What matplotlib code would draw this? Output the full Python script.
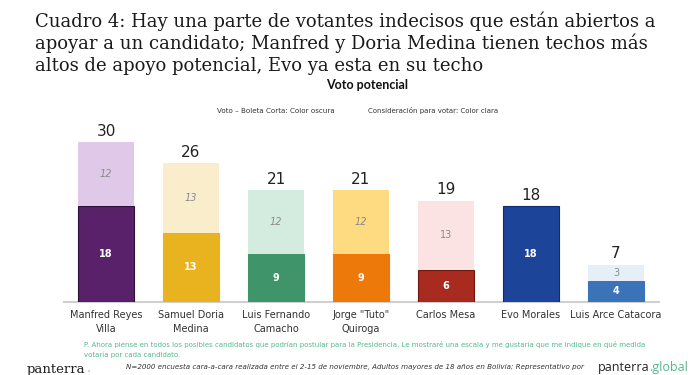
import matplotlib
matplotlib.use("Agg")
import matplotlib.pyplot as plt
import numpy as np

categories = ["Manfred Reyes\nVilla", "Samuel Doria\nMedina", "Luis Fernando\nCamacho",
              "Jorge \"Tuto\"\nQuiroga", "Carlos Mesa", "Evo Morales", "Luis Arce Catacora"]
voto = [18, 13, 9, 9, 6, 18, 4]
consideracion = [12, 13, 12, 12, 13, 0, 3]
totales = [30, 26, 21, 21, 19, 18, 7]

dark_colors = ["#58216a", "#e8b31f", "#3f9569", "#ee790b", "#a92a1f", "#1c4499", "#3b73b9"]
light_colors = ["#e0c8e8", "#f9edcc", "#d4ece0", "#fedb80", "#fbe3e3", "#ffffff", "#e6eef8"]
edge_colors = ["#2e0f3a", "#e8b31f", "#3f9569", "#ee790b", "#6e1710", "#0f2c6e", "#3b73b9"]
light_italic = [True, True, True, True, False, False, False]

title_lines = ["Cuadro 4: Hay una parte de votantes indecisos que están abiertos a",
               "apoyar a un candidato; Manfred y Doria Medina tienen techos más",
               "altos de apoyo potencial, Evo ya esta en su techo"]

W, H = 700, 375
fig = plt.figure(figsize=(7, 3.75), dpi=100)
ax = fig.add_axes([63.5 / W, 1 - 302 / H, (658.5 - 63.5) / W, (302 - 120) / H])

x = np.arange(len(categories))
bw = 0.66
ax.bar(x, voto, width=bw, color=dark_colors, edgecolor=edge_colors, linewidth=0.8, zorder=3)
ax.bar(x, consideracion, bottom=voto, width=bw, color=light_colors, linewidth=0, zorder=3)

for i in range(len(categories)):
    ax.text(x[i], voto[i] / 2, str(voto[i]), ha="center", va="center", color="white",
            fontsize=7, fontweight="bold", zorder=4)
    if consideracion[i] > 0:
        ax.text(x[i], voto[i] + consideracion[i] / 2, str(consideracion[i]), ha="center",
                va="center", color="#8a8a8a", fontsize=7,
                fontstyle="italic" if light_italic[i] else "normal", zorder=4)
    ax.text(x[i], totales[i] + 0.6, str(totales[i]), ha="center", va="bottom",
            color="#222222", fontsize=11, zorder=4)

ax.set_xlim(-0.5, len(categories) - 0.5)
ax.set_ylim(0, (302 - 120) / (160 / 30))
for s in ["top", "right", "left"]:
    ax.spines[s].set_visible(False)
ax.spines["bottom"].set_color("#d0d0d0")
ax.spines["bottom"].set_linewidth(1.5)
ax.set_yticks([])
ax.set_xticks(x)
ax.set_xticklabels(categories, fontsize=7, color="#333333", linespacing=1.4)
ax.tick_params(axis="x", length=0, pad=6)

def fy(py):
    return 1 - py / H

for k, line in enumerate(title_lines):
    fig.text(35 / W, fy(27 + 22 * k), line, ha="left", va="baseline", fontsize=13,
             family="DejaVu Serif", color="#1a1a1a")

fig.text(367 / W, fy(85), "Voto potencial", ha="center", va="center", fontsize=9,
         fontweight="bold", family="Lato", color="#111111")
fig.text(217 / W, fy(111), "Voto \u2013 Boleta Corta: Color oscura", ha="left", va="center",
         fontsize=5.1, color="#333333")
fig.text(368 / W, fy(111), "Consideración para votar: Color clara", ha="left", va="center",
         fontsize=5.0, color="#333333")

green = "#55b98f"
fig.text(84 / W, fy(344), "P. Ahora piense en todos los posibles candidatos que podrían postular para la "
         "Presidencia. Le mostraré una escala y me gustaría que me indique en qué medida",
         ha="left", va="center", fontsize=5.0, color=green)
fig.text(84 / W, fy(355), "votaría por cada candidato.", ha="left", va="center",
         fontsize=5.0, color=green)
fig.text(126 / W, fy(367), "N=2000 encuesta cara-a-cara realizada entre el 2-15 de noviembre, Adultos "
         "mayores de 18 años en Bolivia; Representativo por", ha="left", va="center",
         fontsize=5.1, color="#333333", fontstyle="italic")

tl = fig.text(27 / W, fy(369), "panterra", ha="left", va="center", fontsize=9.5,
              family="DejaVu Serif", color="#222222")
t1 = fig.text(598 / W, fy(367), "panterra", ha="left", va="center", fontsize=9.0,
              family="Open Sans", color="#222222")
fig.canvas.draw()
bbl = tl.get_window_extent()
fig.text((bbl.x1 + 1) / W, fy(369), ".", ha="left", va="center", fontsize=9.5,
         family="DejaVu Serif", color="#9fc9b8")
bb = t1.get_window_extent()
fig.text(bb.x1 / W, fy(367), ".global", ha="left", va="center", fontsize=9.0,
         family="Open Sans", color=green)

fig.savefig("out.png", dpi=100)
